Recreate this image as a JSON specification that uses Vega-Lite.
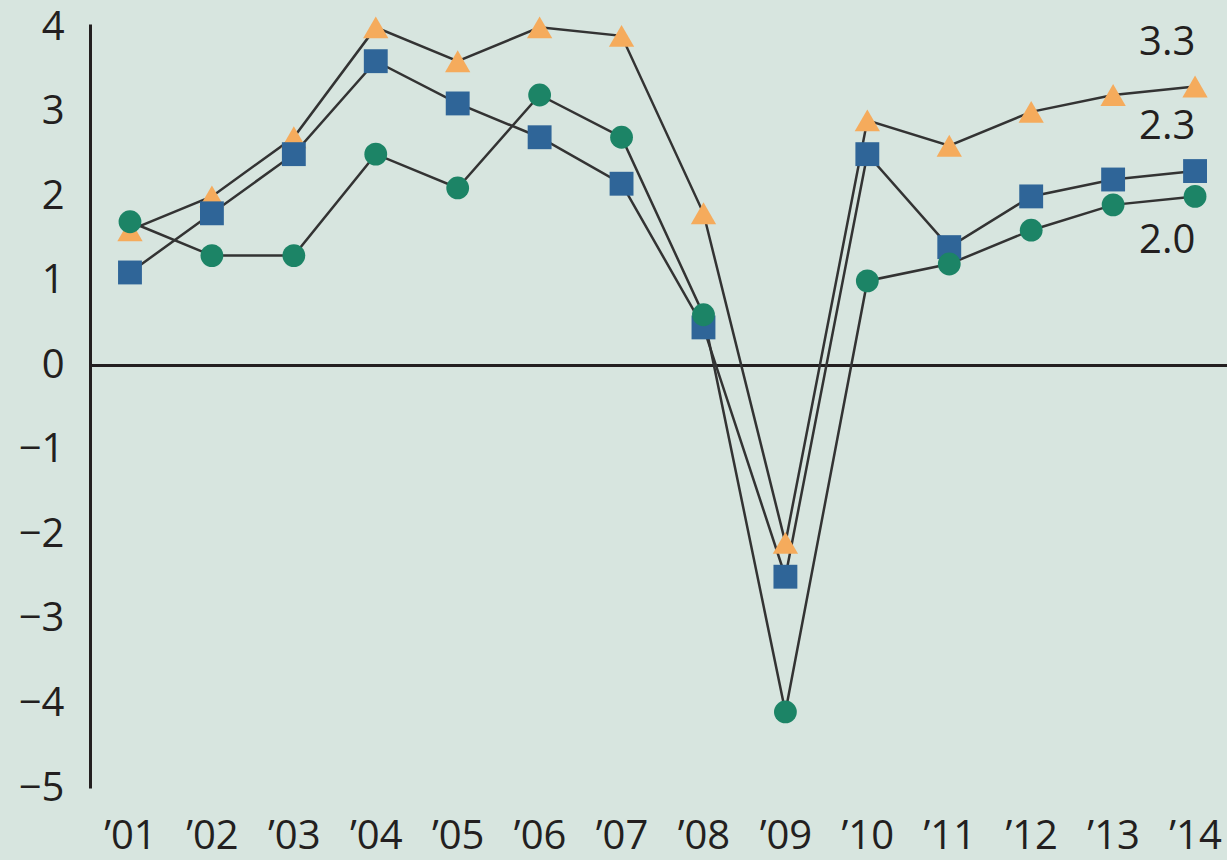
{
  "$schema": "https://vega.github.io/schema/vega-lite/v6.json",
  "width": 1137,
  "height": 764,
  "autosize": {"type": "none"},
  "padding": {"left": 90, "top": 24, "right": 0, "bottom": 72},
  "background": "#d7e5df",
  "config": {
    "view": {"stroke": null},
    "font": "Open Sans",
    "axis": {"grid": false, "ticks": false, "labelFont": "Open Sans", "labelFontSize": 40, "labelColor": "#231f20"}
  },
  "datasets": {
    "series": [
      {"year": 1, "s": "a", "v": 1.6}, {"year": 2, "s": "a", "v": 2.0}, {"year": 3, "s": "a", "v": 2.7}, {"year": 4, "s": "a", "v": 4.0},
      {"year": 5, "s": "a", "v": 3.6}, {"year": 6, "s": "a", "v": 4.0}, {"year": 7, "s": "a", "v": 3.9}, {"year": 8, "s": "a", "v": 1.8},
      {"year": 9, "s": "a", "v": -2.1}, {"year": 10, "s": "a", "v": 2.9}, {"year": 11, "s": "a", "v": 2.6}, {"year": 12, "s": "a", "v": 3.0},
      {"year": 13, "s": "a", "v": 3.2}, {"year": 14, "s": "a", "v": 3.3},
      {"year": 1, "s": "b", "v": 1.1}, {"year": 2, "s": "b", "v": 1.8}, {"year": 3, "s": "b", "v": 2.5}, {"year": 4, "s": "b", "v": 3.6},
      {"year": 5, "s": "b", "v": 3.1}, {"year": 6, "s": "b", "v": 2.7}, {"year": 7, "s": "b", "v": 2.15}, {"year": 8, "s": "b", "v": 0.45},
      {"year": 9, "s": "b", "v": -2.5}, {"year": 10, "s": "b", "v": 2.5}, {"year": 11, "s": "b", "v": 1.4}, {"year": 12, "s": "b", "v": 2.0},
      {"year": 13, "s": "b", "v": 2.2}, {"year": 14, "s": "b", "v": 2.3},
      {"year": 1, "s": "c", "v": 1.7}, {"year": 2, "s": "c", "v": 1.3}, {"year": 3, "s": "c", "v": 1.3}, {"year": 4, "s": "c", "v": 2.5},
      {"year": 5, "s": "c", "v": 2.1}, {"year": 6, "s": "c", "v": 3.2}, {"year": 7, "s": "c", "v": 2.7}, {"year": 8, "s": "c", "v": 0.6},
      {"year": 9, "s": "c", "v": -4.1}, {"year": 10, "s": "c", "v": 1.0}, {"year": 11, "s": "c", "v": 1.2}, {"year": 12, "s": "c", "v": 1.6},
      {"year": 13, "s": "c", "v": 1.9}, {"year": 14, "s": "c", "v": 2.0}
    ],
    "labels": [
      {"year": 13.66, "v": 3.82, "t": "3.3"},
      {"year": 13.66, "v": 2.82, "t": "2.3"},
      {"year": 13.66, "v": 1.47, "t": "2.0"}
    ]
  },
  "encoding": {
    "x": {
      "field": "year", "type": "quantitative",
      "scale": {"domain": [0.512, 14.39], "nice": false, "zero": false},
      "axis": {"title": null, "domain": false, "values": [1,2,3,4,5,6,7,8,9,10,11,12,13,14],
        "labelExpr": "'’' + (datum.value < 10 ? '0' : '') + datum.value", "labelPadding": 28, "labelFlush": false}
    },
    "y": {
      "field": "v", "type": "quantitative",
      "scale": {"domain": [-5.0, 4.04], "nice": false, "zero": false},
      "axis": {"title": null, "values": [-5,-4,-3,-2,-1,0,1,2,3,4], "domain": true, "domainColor": "#231f20", "domainWidth": 3,
        "labelPadding": 26, "labelFlush": false}
    }
  },
  "layer": [
    {
      "data": {"values": [{"z": 0}]},
      "mark": {"type": "rule", "color": "#231f20", "strokeWidth": 3},
      "encoding": {"y": {"field": "z", "type": "quantitative"}, "x": null}
    },
    {
      "data": {"name": "series"},
      "mark": {"type": "line", "color": "#333333", "strokeWidth": 2.5},
      "encoding": {"detail": {"field": "s"}}
    },
    {
      "data": {"name": "series"},
      "transform": [{"filter": "datum.s === 'a'"}],
      "mark": {"type": "point", "shape": "triangle-up", "filled": true, "opacity": 1, "color": "#f5ab5c", "size": 640}
    },
    {
      "data": {"name": "series"},
      "transform": [{"filter": "datum.s === 'b'"}],
      "mark": {"type": "point", "shape": "square", "filled": true, "opacity": 1, "color": "#2f6598", "size": 570}
    },
    {
      "data": {"name": "series"},
      "transform": [{"filter": "datum.s === 'c'"}],
      "mark": {"type": "point", "shape": "circle", "filled": true, "opacity": 1, "color": "#1c8466", "size": 520}
    },
    {
      "data": {"name": "labels"},
      "mark": {"type": "text", "fontSize": 40, "color": "#231f20", "align": "center", "baseline": "middle"},
      "encoding": {"text": {"field": "t"}}
    }
  ]
}
